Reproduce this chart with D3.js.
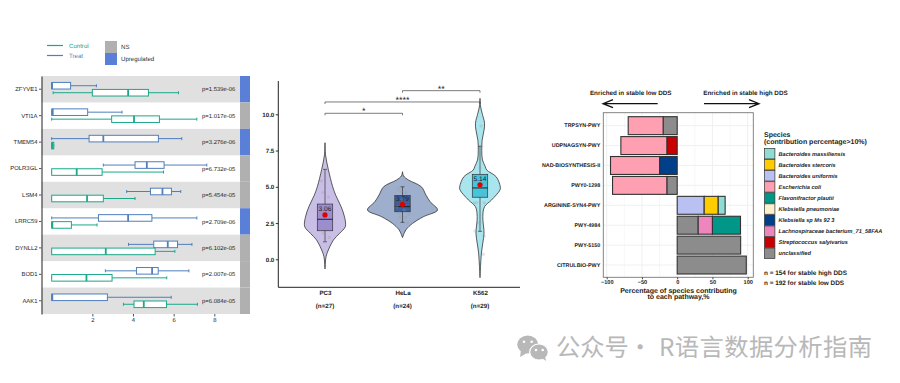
<!DOCTYPE html>
<html>
<head>
<meta charset="utf-8">
<script src="https://cdn.jsdelivr.net/npm/d3@7"></script>
<style>
  html, body { margin: 0; padding: 0; background: #fff; }
  svg { display: block; }
  text { font-family: "Liberation Sans", Arial, sans-serif; text-rendering: geometricPrecision; }
</style>
</head>
<body>
<div id="chart"></div>
<script>
// left panel: boxplots, each row is [min, q1, median, q3, max]
const genes = ['ZFYVE1', 'VTI1A', 'TMEM54', 'POLR3GL', 'LSM4', 'LRRC59', 'DYNLL2', 'BOD1', 'AAK1'];
const treatStats = [
  [0, 0, 0.02, 0.93, 2.2],
  [0, 0, 0.05, 1.77, 3.46],
  [0, 1.84, 2.54, 5.25, 6.4],
  [2.54, 4.1, 4.68, 5.53, 7.63],
  [3.69, 4.86, 5.45, 5.89, 6.35],
  [0, 2.3, 3.76, 4.93, 7.14],
  [3.78, 5.02, 5.71, 6.19, 6.9],
  [2.64, 4.17, 4.94, 5.24, 6.75],
  [0, 0, 0.03, 2.74, 5.88],
];
const controlStats = [
  [0.07, 2.0, 3.76, 4.76, 6.24],
  [0, 2.95, 4.05, 5.3, 7.14],
  [0, 0, 0.03, 0.1, 0.1],
  [0, 0, 1.23, 2.48, 5.5],
  [0, 0, 1.74, 2.54, 4.1],
  [0, 0, 0.03, 0.97, 2.23],
  [0, 0, 2.66, 5.09, 6.06],
  [0, 0, 1.71, 2.97, 5.66],
  [3.53, 4.05, 4.53, 5.65, 7.17],
];
const pValues = ['p=1.539e-06', 'p=1.017e-05', 'p=3.276e-06', 'p=6.732e-05', 'p=5.454e-05', 'p=2.709e-06', 'p=6.102e-05', 'p=2.007e-05', 'p=6.084e-05'];
const geneStatus = ['Upregulated', 'NS', 'Upregulated', 'NS', 'NS', 'Upregulated', 'NS', 'NS', 'NS'];
const boxTicks = [2, 4, 6, 8];

// middle panel: violins, profile is [value, relative width]
const cellLines = ['PC3', 'HeLa', 'K562'];
const cellCounts = ['(n=27)', '(n=24)', '(n=29)'];
const cellMeans = [3.06, 3.79, 5.14];
const cellBoxes = [
  [1.21, 1.97, 2.76, 3.81, 6.2],
  [2.55, 3.28, 3.63, 4.39, 5.0],
  [1.93, 4.28, 4.92, 5.86, 7.8],
];
const pc3Profile = [[8.04, 0], [7.2, 0.015], [6.2, 0.095], [5, 0.22], [4.4, 0.31], [3.63, 0.46], [2.9, 0.56], [2.25, 0.58], [1.8, 0.42], [1.33, 0.24], [0.64, 0.095], [0.18, 0.03], [-0.67, 0]];
const helaProfile = [[6.04, 0], [5.75, 0.03], [5.47, 0.17], [5, 0.54], [4.43, 0.67], [3.97, 0.79], [3.4, 1], [2.94, 0.6], [2.48, 0.29], [2.02, 0.095], [1.49, 0]];
const k562Profile = [[11.1, 0], [10.5, 0.02], [10.08, 0.06], [9.38, 0.13], [8.9, 0.115], [8.2, 0.06], [7.5, 0.05], [6.85, 0.07], [6.4, 0.15], [6.16, 0.19], [5.7, 0.46], [5, 0.58], [4.78, 0.57], [4.09, 0.33], [3.63, 0.13], [2.94, 0.08], [1.8, 0.115], [1.12, 0.08], [0.43, 0.04], [-0.5, 0.015], [-1.27, 0]];
const pc3Points = [[-0.1, 5.4], [0.05, 6.2], [-0.06, 4.6], [0.1, 4.3], [0.02, 3.6], [-0.12, 2.1], [-0.05, 1.8], [0.12, 1.5], [-0.02, 1.2], [0.08, 3.1], [0.03, 2.4], [-0.09, 3.3]];
const helaPoints = [[-0.12, 4.9], [-0.04, 4.7], [0.1, 4.6], [0.18, 3.1], [-0.16, 3.6], [0.08, 2.9], [-0.08, 2.9], [0.14, 2.5], [-0.02, 4.1], [0.05, 3.4], [-0.1, 3.2]];
const k562Points = [[0.03, 9.2], [0.05, 7.8], [-0.03, 7], [0, 6.3], [-0.1, 5.4], [0.12, 5.2], [0.1, 4.5], [-0.16, 3.9], [-0.09, 3.9], [0.12, 3.9], [-0.14, 1.95], [0.12, 1.6], [0.09, 0.35], [-0.05, 2.5]];
const brackets = [
  { from: 0, to: 1, value: 10.07, label: '*' },
  { from: 0, to: 2, value: 10.85, label: '****' },
  { from: 1, to: 2, value: 11.63, label: '**' },
];
const violinTicks = [0, 2.5, 5, 7.5, 10];

// right panel: stacked contributions
const species = [
  'Bacteroides massiliensis', 'Bacteroides stercoris', 'Bacteroides uniformis', 'Escherichia coli',
  'Flavonifractor plautii', 'Klebsiella pneumoniae', 'Klebsiella sp Ms 92 3',
  'Lachnospiraceae bacterium_71_58FAA', 'Streptococcus salyivarius', 'unclassified',
];
const speciesColors = ['#8fdcd4', '#ffcc00', '#b9c1f2', '#ff9fb2', '#009688', '#fdf0cc', '#003f8a', '#ef85bd', '#c80000', '#8c8c8c'];
const pathways = ['TRPSYN-PWY', 'UDPNAGSYN-PWY', 'NAD-BIOSYNTHESIS-II', 'PWY0-1298', 'ARGININE-SYN4-PWY', 'PWY-4984', 'PWY-5150', 'CITRULBIO-PWY'];
const pathwayParts = [
  [['unclassified', -20], ['Escherichia coli', -49.5]],
  [['Streptococcus salyivarius', -14.7], ['Escherichia coli', -65.2]],
  [['Klebsiella sp Ms 92 3', -25], ['Escherichia coli', -69.6]],
  [['unclassified', -14.7], ['Escherichia coli', -77]],
  [['Bacteroides uniformis', 38.3], ['Bacteroides stercoris', 19.9], ['Bacteroides massiliensis', 9.8]],
  [['unclassified', 29.8], ['Lachnospiraceae bacterium_71_58FAA', 20.2], ['Flavonifractor plautii', 39.8]],
  [['unclassified', 90]],
  [['unclassified', 98]],
];
const pathwayTicks = [-100, -50, 0, 50, 100];
const pathwayMinorTicks = [-75, -25, 25, 75];

const svg = d3.select('#chart').append('svg').attr('width', 900).attr('height', 383);

function renderBoxPanel() {
  const colors = { Treat: '#4f7fbd', Control: '#1aa88a' };
  const statusColor = d3.scaleOrdinal().domain(['NS', 'Upregulated']).range(['#b0b0b0', '#5a7fd6']);
  const x = d3.scaleLinear().domain([0, 8]).range([51.7, 214.3]);
  const y = d3.scaleBand().domain(genes).range([76, 314]);
  const g = svg.append('g');

  genes.forEach((gene, i) => {
    if (i % 2 === 0) {
      g.append('rect').attr('x', 41.5).attr('y', y(gene)).attr('width', 198.5)
        .attr('height', y.bandwidth()).attr('fill', '#e0e0e0');
    }
    g.append('rect').attr('x', 240).attr('y', y(gene)).attr('width', 10)
      .attr('height', y.bandwidth()).attr('fill', statusColor(geneStatus[i]));
    g.append('text').attr('x', 202).attr('y', y(gene) + y.bandwidth() / 2 + 2.1)
      .style('font-size', '5.9px').attr('fill', '#222').text(pValues[i]);
  });

  function drawBox(stats, gene, offset, color) {
    const [lo, q1, med, q3, hi] = stats;
    const cy = y(gene) + y.bandwidth() / 2 + offset;
    const row = g.append('g').attr('stroke', color).attr('fill', 'none');
    row.append('line').attr('x1', x(lo)).attr('x2', x(q1)).attr('y1', cy).attr('y2', cy).attr('stroke-width', 1);
    row.append('line').attr('x1', x(q3)).attr('x2', x(hi)).attr('y1', cy).attr('y2', cy).attr('stroke-width', 1);
    [lo, hi].forEach((v) => {
      row.append('line').attr('x1', x(v)).attr('x2', x(v)).attr('y1', cy - 1.5).attr('y2', cy + 1.5).attr('stroke-width', 1);
    });
    row.append('rect').attr('x', x(q1)).attr('y', cy - 3.3).attr('width', x(q3) - x(q1)).attr('height', 6.6)
      .attr('fill', '#fff').attr('stroke-width', 1);
    row.append('line').attr('x1', x(med)).attr('x2', x(med)).attr('y1', cy - 3.3).attr('y2', cy + 3.3).attr('stroke-width', 1.8);
  }

  genes.forEach((gene, i) => {
    drawBox(treatStats[i], gene, -3.5, colors.Treat);
    drawBox(controlStats[i], gene, 3.5, colors.Control);
  });

  const yAxis = g.append('g').attr('transform', 'translate(41.5,0)')
    .call(d3.axisLeft(y).tickSizeInner(2.5).tickSizeOuter(0).tickPadding(1.5));
  yAxis.select('.domain').attr('stroke', '#222').attr('stroke-width', 1);
  yAxis.selectAll('line').attr('stroke', '#555');
  yAxis.selectAll('text').attr('fill', '#222').style('font-size', '5.9px');

  const xAxis = g.append('g').attr('transform', 'translate(0,314)')
    .call(d3.axisBottom(x).tickValues(boxTicks).tickSize(2.5).tickPadding(1.5));
  xAxis.select('.domain').remove();
  xAxis.selectAll('line').attr('stroke', '#555');
  xAxis.selectAll('text').attr('fill', '#222').style('font-size', '5.9px');

  // legend
  [['Control', 45.5], ['Treat', 55.5]].forEach(([label, ly]) => {
    g.append('rect').attr('x', 47).attr('y', ly - 0.6).attr('width', 16).attr('height', 1.2)
      .attr('fill', colors[label]);
    g.append('text').attr('x', 69).attr('y', ly + 2).attr('fill', colors[label])
      .style('font-size', '6.1px').text(label);
  });
  [['NS', 41], ['Upregulated', 53]].forEach(([label, ly]) => {
    g.append('rect').attr('x', 105).attr('y', ly).attr('width', 12).attr('height', 12).attr('fill', statusColor(label));
    g.append('text').attr('x', 121).attr('y', ly + 8).attr('fill', '#333')
      .style('font-size', '6.1px').text(label);
  });
}

function renderViolinPanel() {
  const fills = ['#c9bfe6', '#9dafcd', '#a9e5ee'];
  const boxFills = ['#9c8dd0', '#3b5f9c', '#45c4dc'];
  const profiles = [pc3Profile, helaProfile, k562Profile];
  const points = [pc3Points, helaPoints, k562Points];
  const x = d3.scalePoint().domain(cellLines).range([325, 480]);
  const y = d3.scaleLinear().domain([0, 10]).range([259.3, 114.3]);
  const widthScale = d3.scaleLinear().domain([0, 1]).range([0, 35]);
  const jitter = d3.scaleLinear().domain([-1, 1]).range([-35, 35]);
  const g = svg.append('g');

  cellLines.forEach((cell, i) => {
    const cx = x(cell);
    const area = d3.area()
      .y((d) => y(d[0]))
      .x0((d) => cx - widthScale(d[1]))
      .x1((d) => cx + widthScale(d[1]))
      .curve(d3.curveCatmullRom);
    g.append('path').datum(profiles[i]).attr('d', area)
      .attr('fill', fills[i]).attr('stroke', '#333').attr('stroke-width', 0.8);

    const [lo, q1, med, q3, hi] = cellBoxes[i];
    g.append('line').attr('x1', cx).attr('x2', cx).attr('y1', y(lo)).attr('y2', y(hi))
      .attr('stroke', '#333').attr('stroke-width', 0.7);
    [lo, hi].forEach((v) => {
      g.append('line').attr('x1', cx - 2).attr('x2', cx + 2).attr('y1', y(v)).attr('y2', y(v))
        .attr('stroke', '#333').attr('stroke-width', 0.7);
    });
    g.append('rect').attr('x', cx - 7.7).attr('y', y(q3)).attr('width', 15.4).attr('height', y(q1) - y(q3))
      .attr('fill', boxFills[i]).attr('stroke', '#333').attr('stroke-width', 0.7);
    g.append('line').attr('x1', cx - 7.7).attr('x2', cx + 7.7).attr('y1', y(med)).attr('y2', y(med))
      .attr('stroke', '#222').attr('stroke-width', 1);

    g.append('g').selectAll('circle').data(points[i]).enter().append('circle')
      .attr('cx', (d) => cx + jitter(d[0]))
      .attr('cy', (d) => y(d[1]))
      .attr('r', 1.7)
      .attr('fill', '#999')
      .attr('fill-opacity', 0.28);

    g.append('circle').attr('cx', cx).attr('cy', y(cellMeans[i])).attr('r', 2.6).attr('fill', '#e00000');
    g.append('text').attr('x', cx).attr('y', y(cellMeans[i]) - 3.6).attr('text-anchor', 'middle')
      .attr('fill', '#222').style('font-size', '6.6px').text(cellMeans[i].toFixed(2));
  });

  brackets.forEach((b) => {
    const x1 = x(cellLines[b.from]);
    const x2 = x(cellLines[b.to]);
    const by = y(b.value);
    g.append('path').attr('d', `M${x1},${by + 2}V${by}H${x2}V${by + 2}`)
      .attr('fill', 'none').attr('stroke', '#444').attr('stroke-width', 0.7);
    g.append('text').attr('x', (x1 + x2) / 2).attr('y', by + 1).attr('text-anchor', 'middle')
      .attr('fill', '#222').style('font-size', '9px').text(b.label);
  });

  g.append('line').attr('x1', 278.3).attr('x2', 278.3).attr('y1', 81).attr('y2', 287.3).attr('stroke', '#222').attr('stroke-width', 1);
  const yAxis = g.append('g').attr('transform', 'translate(278.3,0)')
    .call(d3.axisLeft(y).tickValues(violinTicks).tickFormat(d3.format('.1f')).tickSize(2.5).tickPadding(1.5));
  yAxis.select('.domain').remove();
  yAxis.selectAll('line').attr('stroke', '#333');
  yAxis.selectAll('text').attr('fill', '#222').style('font-size', '6.2px').style('font-weight', '700');

  g.append('line').attr('x1', 278.3).attr('x2', 520).attr('y1', 287.3).attr('y2', 287.3).attr('stroke', '#222').attr('stroke-width', 1);
  const xAxis = g.append('g').attr('transform', 'translate(0,287.3)')
    .call(d3.axisBottom(x).tickSize(0).tickPadding(3));
  xAxis.select('.domain').remove();
  xAxis.selectAll('text').attr('fill', '#222').style('font-size', '6.2px').style('font-weight', '700');

  cellLines.forEach((cell, i) => {
    g.append('text').attr('x', x(cell)).attr('y', 308).attr('text-anchor', 'middle')
      .attr('fill', '#222').style('font-size', '6.2px').style('font-weight', '700').text(cellCounts[i]);
  });
}

function renderBarPanel() {
  const color = d3.scaleOrdinal().domain(species).range(speciesColors);
  const x = d3.scaleLinear().domain([-100, 100]).range([606.7, 747.7]);
  const y = d3.scaleBand().domain(pathways).range([115.7, 275]).paddingInner(0.1).paddingOuter(0.05);
  const left = 603.3;
  const right = 753.3;
  const top = 112.7;
  const bottom = 277.3;
  const g = svg.append('g');

  pathwayMinorTicks.concat(pathwayTicks).forEach((t) => {
    g.append('line').attr('x1', x(t)).attr('x2', x(t)).attr('y1', top).attr('y2', bottom)
      .attr('stroke', '#eeeeee').attr('stroke-width', pathwayTicks.includes(t) ? 0.9 : 0.5);
  });
  pathways.forEach((p) => {
    const cy = y(p) + y.bandwidth() / 2;
    g.append('line').attr('x1', left).attr('x2', right).attr('y1', cy).attr('y2', cy)
      .attr('stroke', '#eeeeee').attr('stroke-width', 0.9);
  });

  pathways.forEach((p, i) => {
    let pos = 0;
    pathwayParts[i].forEach(([name, value]) => {
      const next = pos + value;
      g.append('rect')
        .attr('x', Math.min(x(pos), x(next)))
        .attr('y', y(p))
        .attr('width', Math.abs(x(next) - x(pos)))
        .attr('height', y.bandwidth())
        .attr('fill', color(name))
        .attr('stroke', '#333')
        .attr('stroke-width', 1.1);
      pos = next;
    });
  });

  g.append('rect').attr('x', left).attr('y', top).attr('width', right - left).attr('height', bottom - top)
    .attr('fill', 'none').attr('stroke', '#777').attr('stroke-width', 0.9);

  const yAxis = g.append('g').attr('transform', `translate(${left},0)`)
    .call(d3.axisLeft(y).tickSize(0).tickPadding(3));
  yAxis.select('.domain').remove();
  yAxis.selectAll('text').attr('fill', '#222').style('font-size', '5.4px').style('font-weight', '700');

  const xAxis = g.append('g').attr('transform', `translate(0,${bottom})`)
    .call(d3.axisBottom(x).tickValues(pathwayTicks).tickFormat(d3.format('d')).tickSize(2).tickPadding(0.8));
  xAxis.select('.domain').remove();
  xAxis.selectAll('line').attr('stroke', '#444');
  xAxis.selectAll('text').attr('fill', '#222').style('font-size', '5.6px').style('font-weight', '700');

  g.append('text').attr('x', 678.5).attr('y', 292.5).attr('text-anchor', 'middle').attr('fill', '#222')
    .style('font-size', '7px').style('font-weight', '700').text('Percentage of species contributing');
  g.append('text').attr('x', 678.5).attr('y', 299).attr('text-anchor', 'middle').attr('fill', '#222')
    .style('font-size', '7px').style('font-weight', '700').text('to each pathway,%');

  // direction arrows above the panel
  g.append('text').attr('x', 630.7).attr('y', 95).attr('text-anchor', 'middle').attr('fill', '#222')
    .style('font-size', '6.3px').style('font-weight', '700').text('Enriched in stable low DDS');
  g.append('text').attr('x', 745.5).attr('y', 95).attr('text-anchor', 'middle').attr('fill', '#222')
    .style('font-size', '6.3px').style('font-weight', '700').text('Enriched in stable high DDS');
  g.append('path').attr('d', 'M657.7,103.7H603M613,99.7L603,103.7L613,107.7')
    .attr('fill', 'none').attr('stroke', '#111').attr('stroke-width', 1.3);
  g.append('path').attr('d', 'M704,103.7H759M749,99.7L759,103.7L749,107.7')
    .attr('fill', 'none').attr('stroke', '#111').attr('stroke-width', 1.3);

  // species legend
  const legendY = d3.scalePoint().domain(species).range([153.7, 253.3]);
  g.append('text').attr('x', 764).attr('y', 136.5).attr('fill', '#222')
    .style('font-size', '7px').style('font-weight', '700').text('Species');
  g.append('text').attr('x', 764).attr('y', 143.5).attr('fill', '#222')
    .style('font-size', '7px').style('font-weight', '700').text('(contribution percentage>10%)');
  species.forEach((s) => {
    g.append('rect').attr('x', 764.5).attr('y', legendY(s) - 5.2).attr('width', 10.4).attr('height', 10.4)
      .attr('fill', color(s)).attr('stroke', '#333').attr('stroke-width', 0.7);
    g.append('text').attr('x', 778.5).attr('y', legendY(s) + 2).attr('fill', '#222')
      .style('font-size', '5.6px').style('font-weight', '700').style('font-style', 'italic').text(s);
  });
  g.append('text').attr('x', 764).attr('y', 275).attr('fill', '#222')
    .style('font-size', '6.4px').style('font-weight', '700').text('n = 154 for stable high DDS');
  g.append('text').attr('x', 764).attr('y', 285).attr('fill', '#222')
    .style('font-size', '6.4px').style('font-weight', '700').text('n = 192 for stable low DDS');
}

function renderWatermark() {
  const g = svg.append('g');
  const grey = '#b8b8b8';
  g.append('ellipse').attr('cx', 527.7).attr('cy', 344.5).attr('rx', 10.5).attr('ry', 9).attr('fill', grey);
  g.append('path').attr('d', 'M521,350L520,357L527,353Z').attr('fill', grey);
  g.append('ellipse').attr('cx', 539).attr('cy', 352).attr('rx', 9.3).attr('ry', 8).attr('fill', grey).attr('stroke', '#fff').attr('stroke-width', 1.2);
  g.append('path').attr('d', 'M542,358L546,361L545,356Z').attr('fill', grey);
  [[524, 341.7], [531.7, 341.7], [536, 350], [542.7, 350]].forEach(([cx, cy]) => {
    g.append('circle').attr('cx', cx).attr('cy', cy).attr('r', 1.3).attr('fill', '#fff');
  });
  const label = g.append('text').attr('y', 356).attr('fill', grey)
    .style('font-family', '"Noto Sans CJK SC", sans-serif').style('font-size', '24.3px');
  label.append('tspan').attr('x', 556).text('公众号');
  label.append('tspan').attr('x', 628).text('·');
  label.append('tspan').attr('x', 659).style('letter-spacing', '0.4px').text('R语言数据分析指南');
}

renderBoxPanel();
renderViolinPanel();
renderBarPanel();
renderWatermark();
</script>
</body>
</html>
